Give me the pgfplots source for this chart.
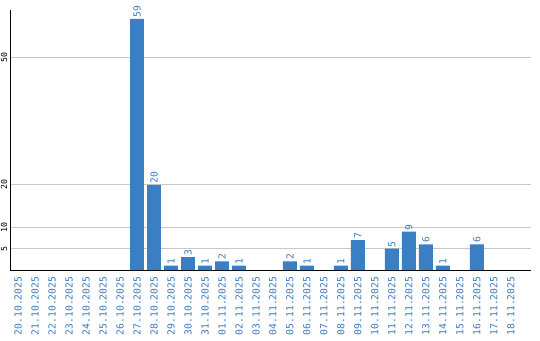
\documentclass[border=0pt]{standalone}
\usepackage{fontspec}
\newfontfamily\labfont{DejaVu Sans Mono}
\usepackage{pgfplots}
\pgfplotsset{compat=1.18}
\definecolor{barblue}{RGB}{58,126,196}
\definecolor{labblue}{RGB}{56,122,192}
\definecolor{gridgray}{RGB}{200,200,200}
\begin{document}
\begin{tikzpicture}
\useasboundingbox (0,0) rectangle (540pt,340pt);
\begin{axis}[
  at={(10pt,70pt)}, anchor=south west,
  scale only axis, width=521pt, height=260pt,
  xmin=-0.47, xmax=30.18, ymin=0, ymax=61.1,
  axis x line*=bottom, axis y line*=left,
  axis line style={black, line width=1pt, -},
  /pgf/number format/assume math mode=true,
  ybar, bar width=0.82, bar shift=0pt,
  xtick={0,...,29},
  xticklabels={20.10.2025,21.10.2025,22.10.2025,23.10.2025,24.10.2025,25.10.2025,26.10.2025,27.10.2025,28.10.2025,29.10.2025,30.10.2025,31.10.2025,01.11.2025,02.11.2025,03.11.2025,04.11.2025,05.11.2025,06.11.2025,07.11.2025,08.11.2025,09.11.2025,10.11.2025,11.11.2025,12.11.2025,13.11.2025,14.11.2025,15.11.2025,16.11.2025,17.11.2025,18.11.2025},
  xticklabel style={rotate=90, anchor=east, inner sep=0pt, text=labblue, font=\labfont\fontsize{9.7}{10}\selectfont},
  xticklabel shift=6.5pt,
  ytick={5,10,20,50},
  yticklabel style={rotate=90, anchor=south, inner sep=0pt, text=black, font=\labfont\fontsize{8.3}{9}\selectfont},
  yticklabel shift=2.5pt,
  major tick length=0pt,
  ymajorgrids, grid style={gridgray, line width=0.9pt},
  nodes near coords,
  every node near coord/.append style={rotate=90, anchor=west, inner sep=1.5pt, text=labblue, font=\labfont\fontsize{9.7}{10}\selectfont},
  clip=false,
]
\addplot[fill=barblue, draw=none] coordinates {
 (7,59) (8,20) (9,1) (10,3) (11,1) (12,2) (13,1) (16,2) (17,1) (19,1) (20,7) (22,5) (23,9) (24,6) (25,1) (27,6)
};
\end{axis}
\end{tikzpicture}
\end{document}
